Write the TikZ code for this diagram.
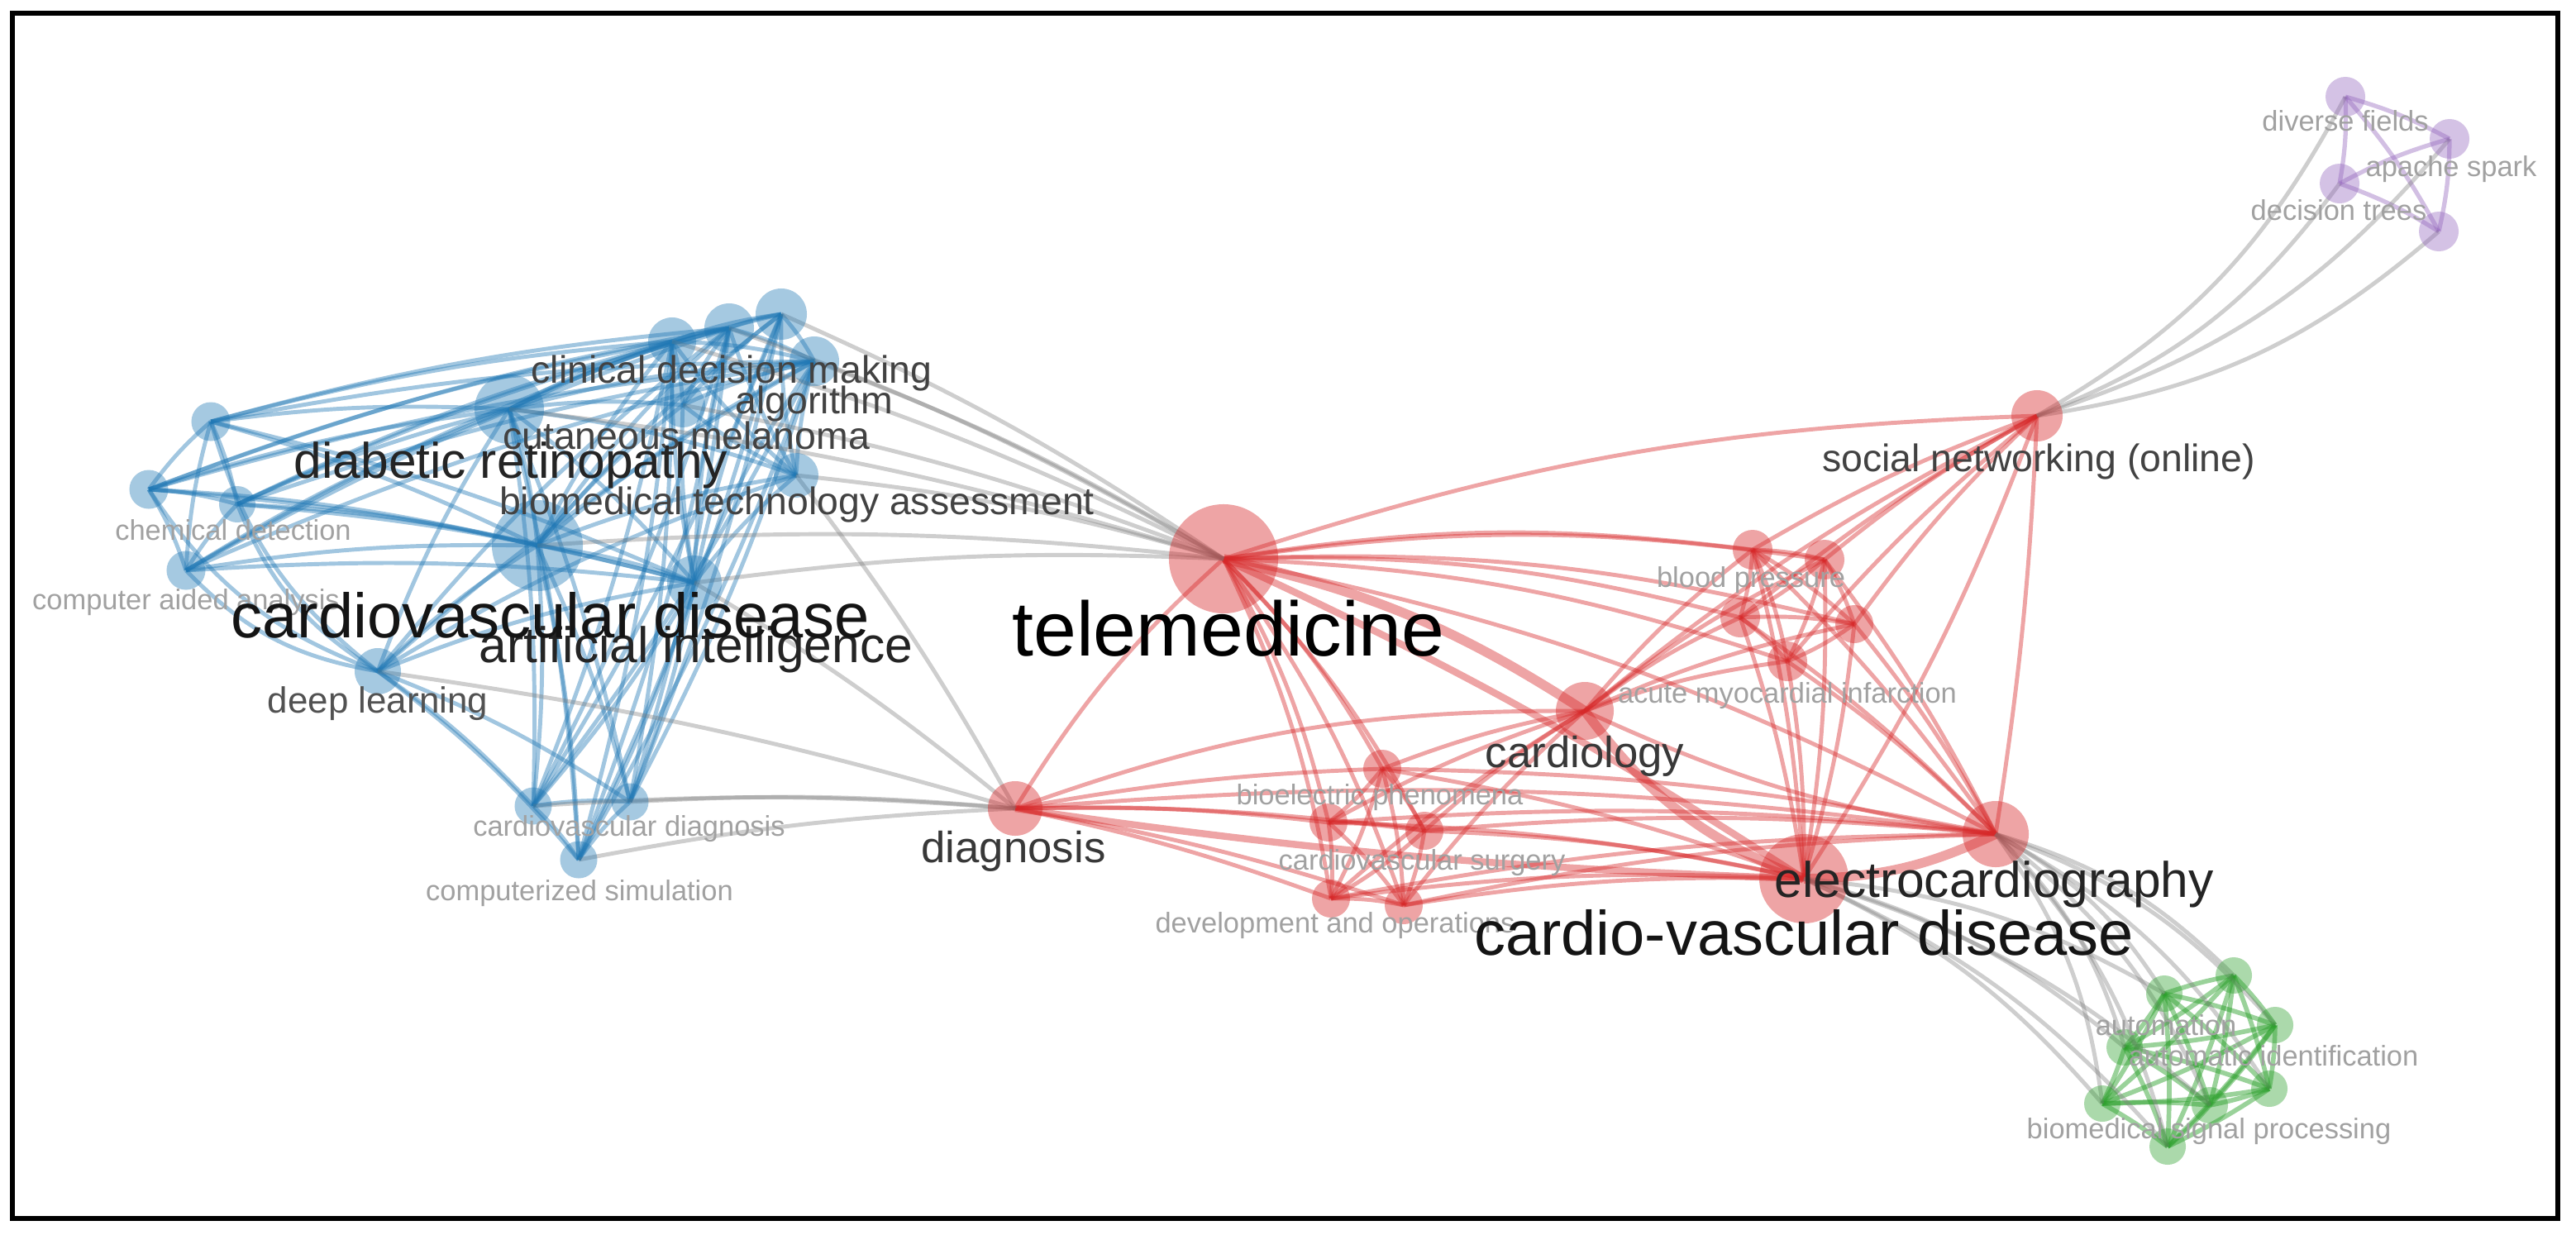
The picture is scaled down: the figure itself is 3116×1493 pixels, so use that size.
\documentclass[tikz,border=0pt]{standalone}
\usepackage{fontspec}
\setmainfont{Liberation Sans}
\usetikzlibrary{backgrounds}

\definecolor{vblue}{RGB}{31,119,180}
\definecolor{vred}{RGB}{214,39,40}
\definecolor{vgreen}{RGB}{44,160,44}
\definecolor{vpurple}{RGB}{148,103,189}
\definecolor{vgray}{RGB}{125,125,125}

\tikzset{
  kw/.style={circle, inner sep=0pt, minimum size=#1},
  bkw/.style={kw=#1, fill=vblue, fill opacity=0.4},
  rkw/.style={kw=#1, fill=vred, fill opacity=0.42},
  gkw/.style={kw=#1, fill=vgreen, fill opacity=0.4},
  pkw/.style={kw=#1, fill=vpurple, fill opacity=0.4},
  link/.style={line width=1.4pt, draw opacity=0.42},
  blink/.style={link, draw=vblue},
  rlink/.style={link, draw=vred},
  glink/.style={link, draw=vgreen, line width=1.6pt, draw opacity=0.48},
  plink/.style={link, draw=vpurple, line width=1.5pt},
  xlink/.style={link, draw=vgray, draw opacity=0.38},
  fat/.style={line width=3.3pt},
  lbl/.style={inner sep=0pt, anchor=base},
  lblxl/.style={lbl, text=black, font=\fontsize{26.5}{28}\selectfont},
  lbll/.style={lbl, text=black!92, font=\fontsize{21.6}{23}\selectfont},
  lblm/.style={lbl, text=black!86, font=\fontsize{17.2}{19}\selectfont},
  lbln/.style={lbl, text=black!78, font=\fontsize{15}{17}\selectfont},
  lbls/.style={lbl, text=black!74, font=\fontsize{13.2}{15}\selectfont},
  lblt/.style={lbl, text=black!37, font=\fontsize{9.8}{11}\selectfont}
}

\begin{document}
\begin{tikzpicture}[x=0.01cm, y=-0.01cm]
    \useasboundingbox (0,0) rectangle (3116,1493);
    \draw[line width=1.7pt] (15,16) rectangle (3094,1474);

    % blue cluster
    \node[bkw=0.47cm] (bl1) at (255,510) {};
    \node[bkw=0.47cm] (bl2) at (180,592) {};
    \node[bkw=0.44cm] (chem) at (287,610) {};
    \node[bkw=0.47cm] (caa) at (225,690) {};
    \node[bkw=0.56cm] (dl) at (457,812) {};
    \node[bkw=0.84cm] (dr) at (616,495) {};
    \node[bkw=1.10cm] (cvd) at (650,660) {};
    \node[bkw=0.66cm] (ai) at (840,705) {};
    \node[bkw=0.60cm] (cdm) at (882,397) {};
    \node[bkw=0.58cm] (bl3) at (813,413) {};
    \node[bkw=0.62cm] (bl4) at (945,380) {};
    \node[bkw=0.60cm] (alg) at (985,437) {};
    \node[bkw=0.54cm] (cm) at (826,490) {};
    \node[bkw=0.54cm] (bta) at (963,575) {};
    \node[bkw=0.45cm] (bl5) at (645,975) {};
    \node[bkw=0.45cm] (cvdg) at (762,970) {};
    \node[bkw=0.45cm] (csim) at (700,1040) {};

    % red cluster
    \node[rkw=1.32cm] (tm) at (1480,676) {};
    \node[rkw=0.66cm] (diag) at (1228,978) {};
    \node[rkw=0.70cm] (card) at (1917,860) {};
    \node[rkw=0.48cm] (bp) at (2120,665) {};
    \node[rkw=0.48cm] (rn2) at (2207,677) {};
    \node[rkw=0.48cm] (rn3) at (2105,747) {};
    \node[rkw=0.46cm] (rn4) at (2243,755) {};
    \node[rkw=0.48cm] (ami) at (2162,800) {};
    \node[rkw=0.62cm] (sn) at (2464,503) {};
    \node[rkw=0.80cm] (ecg) at (2414,1009) {};
    \node[rkw=1.08cm] (cvd2) at (2182,1063) {};
    \node[rkw=0.46cm] (bio) at (1672,930) {};
    \node[rkw=0.46cm] (rn5) at (1607,995) {};
    \node[rkw=0.46cm] (surg) at (1723,1005) {};
    \node[rkw=0.46cm] (devops) at (1610,1087) {};
    \node[rkw=0.46cm] (rn6) at (1698,1095) {};

    % green cluster
    \node[gkw=0.44cm] (auto) at (2618,1202) {};
    \node[gkw=0.44cm] (gn2) at (2702,1180) {};
    \node[gkw=0.44cm] (aid) at (2752,1240) {};
    \node[gkw=0.44cm] (gn4) at (2570,1267) {};
    \node[gkw=0.44cm] (gn5) at (2745,1317) {};
    \node[gkw=0.44cm] (gn6) at (2543,1335) {};
    \node[gkw=0.44cm] (bsp) at (2673,1337) {};
    \node[gkw=0.44cm] (gn8) at (2622,1387) {};

    % purple cluster
    \node[pkw=0.48cm] (df) at (2837,117) {};
    \node[pkw=0.48cm] (aps) at (2963,168) {};
    \node[pkw=0.48cm] (dt) at (2830,222) {};
    \node[pkw=0.48cm] (pn4) at (2950,280) {};

    \begin{scope}[on background layer]
        % links inside blue
        \foreach \a/\b in {bl2/bl1, bl2/chem, bl2/caa, caa/bl1, bl1/chem, caa/chem,
                           dr/cvd, dr/ai, cvd/ai, dr/bta, cvd/bta, ai/bta,
                           bl3/cdm, bl3/bl4, bl3/alg, bl3/cm, cm/cdm, cdm/bl4, cdm/alg, cm/bl4, cm/alg, bl4/alg,
                           bl5/cvdg, bl5/csim, csim/cvdg,
                           dl/cvd, dl/dr, dl/ai, dl/cdm, dl/alg, dl/bl5, dl/cvdg, dl/csim, dl/bta}
            \draw[blink] (\a.center) to[bend left=6] (\b.center);
        \foreach \a in {bl1,bl2,chem,caa}
            \foreach \b in {dr,cvd,ai,cdm,bl3,alg}
                \draw[blink] (\a.center) to[bend left=5] (\b.center);
        \foreach \a in {bl2,caa,bl1,chem}
            \draw[blink] (\a.center) to[bend right=18] (dl.center);
        \foreach \a in {bl3,cdm,bl4,alg,cm}
            \foreach \b in {dr,cvd,ai,bta}
                \draw[blink] (\b.center) to[bend left=6] (\a.center);
        \foreach \a in {bl5,cvdg,csim}
            \foreach \b in {cvd,ai,dr,cdm,alg,bl3,bl4}
                \draw[blink] (\a.center) to[bend right=5] (\b.center);

        % links inside red
        \foreach \b in {bp,rn2,rn3,rn4,ami,sn,ecg,bio,rn5,surg,devops,rn6}
            \draw[rlink] (tm.center) to[bend left=8] (\b.center);
        \draw[rlink] (diag.center) to[bend left=8] (tm.center);
        \draw[rlink, fat] (tm.center) to[bend left=10] (card.center);
        \draw[rlink, line width=2.4pt] (tm.center) to[bend left=4] (cvd2.center);
        \foreach \a/\b in {bp/rn2, bp/rn3, bp/rn4, bp/ami, rn2/rn3, rn2/rn4, rn2/ami, rn3/rn4, rn3/ami, rn4/ami,
                           bio/rn5, bio/surg, bio/devops, bio/rn6, rn5/surg, rn5/devops, rn5/rn6,
                           surg/devops, surg/rn6, devops/rn6}
            \draw[rlink] (\a.center) to[bend left=6] (\b.center);
        \foreach \a in {bp,rn2,rn3,rn4,ami}
            \foreach \b in {sn,ecg,cvd2}
                \draw[rlink] (\a.center) to[bend left=5] (\b.center);
        \foreach \a in {bp,rn2,rn3,rn4,ami}
            \draw[rlink] (card.center) to[bend left=6] (\a.center);
        \foreach \a in {bio,rn5,surg,devops,rn6}
            \foreach \b in {card,cvd2,ecg}
                \draw[rlink] (\a.center) to[bend left=5] (\b.center);
        \foreach \a in {bio,rn5,surg,devops,rn6}
            \draw[rlink] (diag.center) to[bend left=4] (\a.center);
        \draw[rlink] (diag.center) to[bend left=10] (card.center);
        \draw[rlink, line width=2.4pt] (diag.center) to[bend right=3] (cvd2.center);
        \draw[rlink] (diag.center) to[bend left=6] (ecg.center);
        \draw[rlink, fat] (card.center) to[bend right=16] (cvd2.center);
        \draw[rlink] (card.center) to[bend right=8] (ecg.center);
        \draw[rlink] (card.center) to[bend left=6] (sn.center);
        \draw[rlink, fat] (cvd2.center) to[bend right=12] (ecg.center);
        \draw[rlink] (cvd2.center) to[bend right=6] (sn.center);
        \draw[rlink] (ecg.center) to[bend right=3] (sn.center);

        % links inside green and purple
        \foreach \a/\b in {auto/gn2, auto/aid, auto/gn4, auto/gn5, auto/gn6, auto/bsp, auto/gn8,
                           gn2/aid, gn2/gn4, gn2/gn5, gn2/gn6, gn2/bsp, gn2/gn8,
                           aid/gn4, aid/gn5, aid/gn6, aid/bsp, aid/gn8,
                           gn4/gn5, gn4/gn6, gn4/bsp, gn4/gn8,
                           gn5/gn6, gn5/bsp, gn5/gn8, gn6/bsp, gn6/gn8, bsp/gn8}
            \draw[glink] (\a.center) to[bend left=4] (\b.center);
        \foreach \a/\b in {df/aps, df/dt, df/pn4, dt/aps, aps/pn4, dt/pn4}
            \draw[plink] (\a.center) to[bend left=6] (\b.center);

        % links between clusters
        \foreach \a in {cdm,bl3,bl4,alg,cm,bta,dr,cvd,ai}
            \draw[xlink] (\a.center) to[bend left=5] (tm.center);
        \foreach \a in {ai,bta,dl,cvdg,csim,bl5}
            \draw[xlink] (\a.center) to[bend left=4] (diag.center);
        \foreach \b in {auto,gn2,aid,gn4,gn5,gn6,bsp,gn8}
            \draw[xlink] (ecg.center) to[bend left=14] (\b.center);
        \foreach \b in {auto,gn4,gn6,gn8,bsp}
            \draw[xlink] (cvd2.center) to[bend left=12] (\b.center);
        \foreach \b in {df,aps,dt,pn4}
            \draw[xlink] (sn.center) to[bend right=16] (\b.center);
    \end{scope}

    % labels
    \node[lblt] (t-chem) at (282,653) {chemical detection};
    \node[lblt] (t-caa) at (225,737) {computer aided analysis};
    \node[lblt] (t-cvdg) at (761,1011) {cardiovascular diagnosis};
    \node[lblt] (t-csim) at (701,1089) {computerized simulation};
    \node[lblt] (t-bp) at (2118,710) {blood pressure};
    \node[lblt] (t-ami) at (2162,850) {acute myocardial infarction};
    \node[lblt] (t-bio) at (1669,973) {bioelectric phenomena};
    \node[lblt] (t-surg) at (1720,1052) {cardiovascular surgery};
    \node[lblt] (t-devops) at (1615,1128) {development and operations};
    \node[lblt] (t-auto) at (2620,1252) {automation};
    \node[lblt] (t-aid) at (2750,1289) {automatic identification};
    \node[lblt] (t-bsp) at (2672,1377) {biomedical signal processing};
    \node[lblt] (t-df) at (2837,158) {diverse fields};
    \node[lblt] (t-aps) at (2965,213) {apache spark};
    \node[lblt] (t-dt) at (2829,266) {decision trees};

    \node[lbls, font=\fontsize{12.5}{14}\selectfont, text=black!68] (t-dl) at (457,862) {deep learning};
    \node[lbls] (t-cdm) at (885,463) {clinical decision making};
    \node[lbls] (t-alg) at (985,500) {algorithm};
    \node[lbls] (t-cm) at (830,543) {cutaneous melanoma};
    \node[lbls] (t-bta) at (964,622) {biomedical technology assessment};
    \node[lbls] (t-sn) at (2466,570) {social networking (online)};
    \node[lbln] (t-diag) at (1226,1043) {diagnosis};
    \node[lbln] (t-card) at (1917,928) {cardiology};
    \node[lblm] (t-dr) at (618,578) {diabetic retinopathy};
    \node[lblm] (t-ai) at (842,801) {artificial intelligence};
    \node[lblm] (t-ecg) at (2412,1085) {electrocardiography};
    \node[lbll] (t-cvd) at (666,771) {cardiovascular disease};
    \node[lbll] (t-cvd2) at (2182,1155) {cardio-vascular disease};
    \node[lblxl] (t-tm) at (1486,793) {telemedicine};
\end{tikzpicture}
\end{document}
